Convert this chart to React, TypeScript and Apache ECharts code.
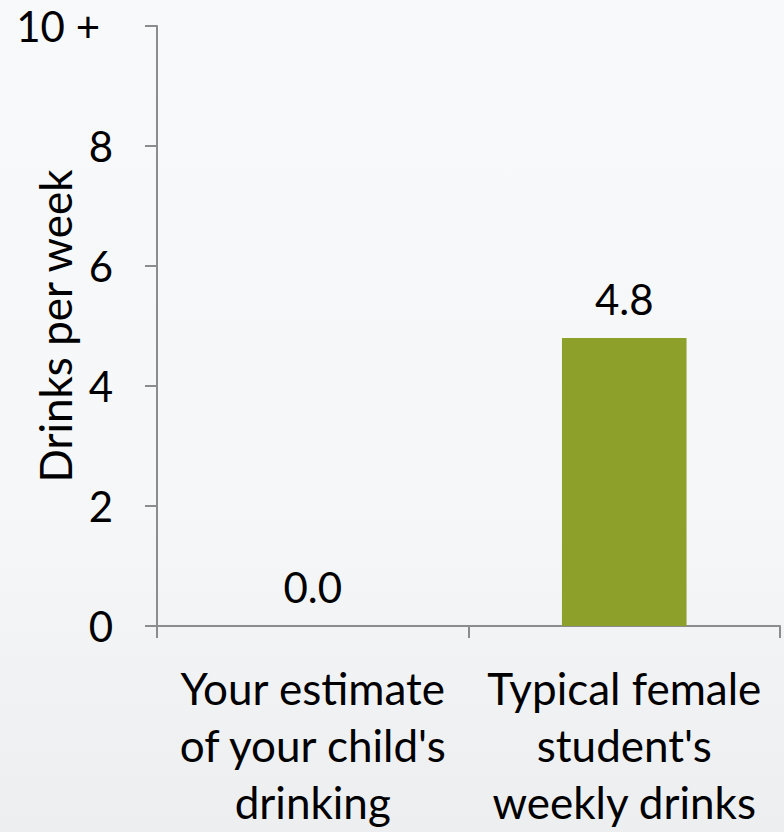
import React, { useEffect, useRef } from "react";
import * as echarts from "echarts";

const categories: string[] = [
  "Your estimate\nof your child's\ndrinking",
  "Typical female\nstudent's\nweekly drinks",
];
const values: number[] = [0.0, 4.8];
const yMin = 0;
const yMax = 10;
const yInterval = 2;
const yAxisName = "Drinks per week";

const FONT = "Lato, 'Open Sans', sans-serif";

export default function App() {
  const ref = useRef<HTMLDivElement>(null);
  useEffect(() => {
    if (!ref.current) return;
    const chart = echarts.init(ref.current, undefined, { renderer: "svg" });
    chart.setOption({
      animation: false,
      backgroundColor: {
        type: "linear",
        x: 0,
        y: 0,
        x2: 0,
        y2: 1,
        colorStops: [
          { offset: 0, color: "#f8f9fb" },
          { offset: 0.6, color: "#f6f7f9" },
          { offset: 1, color: "#eceef0" },
        ],
      },
      grid: {
        left: 157,
        top: 26,
        right: 4,
        bottom: 206,
        containLabel: false,
        outerBoundsMode: "none",
      },
      xAxis: {
        type: "category",
        data: categories,
        axisLine: { show: true, lineStyle: { color: "#8c8c8c", width: 2 } },
        axisTick: { show: true, length: 12, lineStyle: { color: "#8c8c8c", width: 2 } },
        axisLabel: {
          color: "#000",
          fontFamily: FONT,
          fontSize: 44,
          lineHeight: 57,
          margin: 33,
          interval: 0,
          align: "center",
        },
        splitLine: { show: false },
      },
      yAxis: {
        type: "value",
        min: yMin,
        max: yMax,
        interval: yInterval,
        name: yAxisName,
        nameLocation: "middle",
        nameGap: 80,
        nameMoveOverlap: false,
        nameTextStyle: { color: "#000", fontFamily: FONT, fontSize: 44 },
        axisLine: { show: true, lineStyle: { color: "#8c8c8c", width: 2 } },
        axisTick: { show: true, length: 12, lineStyle: { color: "#8c8c8c", width: 2 } },
        splitLine: { show: false },
        axisLabel: {
          color: "#000",
          fontFamily: FONT,
          fontSize: 42,
          margin: 44,
          formatter: (v: number) => (v === yMax ? "{p|10 +}" : String(v)),
          rich: { p: { color: "#000", fontFamily: FONT, fontSize: 42, padding: [0, 13, 0, 0] } },
        },
      },
      series: [
        {
          type: "bar",
          data: values,
          barWidth: "40%",
          itemStyle: { color: "#8da12a" },
          label: {
            show: true,
            position: "top",
            distance: 18,
            color: "#000",
            fontFamily: FONT,
            fontSize: 42,
            formatter: (p: any) => Number(p.value).toFixed(1),
          },
        },
      ],
    });
    return () => chart.dispose();
  }, []);
  return (
    <div
      ref={ref}
      style={{ position: "absolute", left: 0, top: 0, width: 784, height: 832 }}
    />
  );
}
